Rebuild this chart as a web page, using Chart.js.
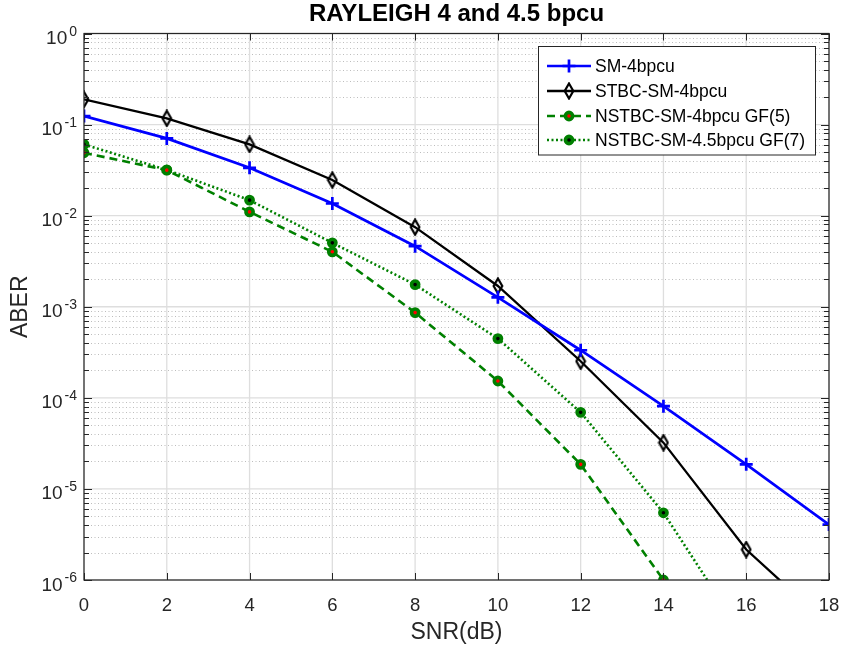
<!DOCTYPE html>
<html><head><meta charset="utf-8">
<script src="https://cdn.jsdelivr.net/npm/chart.js@4.4.1/dist/chart.umd.min.js"></script>
<style>html,body{margin:0;padding:0;background:#fff;overflow:hidden}</style>
</head><body>
<canvas id="c" width="841" height="655" style="display:block;width:841px;height:655px"></canvas>
<script>
// ---- data ----
const snr = [0, 2, 4, 6, 8, 10, 12, 14, 16, 18];
const smAber   = [0.124, 0.0705, 0.0335, 0.0136, 0.00462, 0.00127, 3.33e-4, 8.1e-5, 1.86e-5, 4.06e-6];
const stbcAber = [0.189, 0.117, 0.0606, 0.0246, 0.00748, 0.00169, 2.52e-4, 3.22e-5, 2.16e-6, 3.2e-7];
const gf5Aber  = [0.049, 0.0316, 0.011, 0.00401, 8.63e-4, 1.53e-4, 1.86e-5, 1.0e-6, null, null];
const gf7Aber  = [0.0606, 0.0318, 0.0148, 0.00503, 0.00175, 4.47e-4, 6.93e-5, 5.47e-6, 2.2e-7, null];
const seriesNames = ['SM-4bpcu', 'STBC-SM-4bpcu', 'NSTBC-SM-4bpcu GF(5)', 'NSTBC-SM-4.5bpcu GF(7)'];
const xTicks = [0, 2, 4, 6, 8, 10, 12, 14, 16, 18];
const yDecadeExp = [0, -1, -2, -3, -4, -5, -6];
const titleText = 'RAYLEIGH 4 and 4.5 bpcu';
const xTitleText = 'SNR(dB)';
const yTitleText = 'ABER';

const FONT = "'Liberation Sans', Arial, Helvetica, sans-serif";
const AX = '#262626';

function diamondCanvas() {
  const c = document.createElement('canvas');
  c.width = 12; c.height = 18;
  const g = c.getContext('2d');
  g.beginPath();
  g.moveTo(6, 1.5); g.lineTo(10.3, 9); g.lineTo(6, 16.5); g.lineTo(1.7, 9); g.closePath();
  g.lineWidth = 2.2; g.strokeStyle = '#000'; g.stroke();
  return c;
}
const diamond = diamondCanvas();

const pts = vals => snr.map((x, i) => ({ x: x, y: vals[i] }));

const datasets = [
  { label: seriesNames[0], data: pts(smAber), borderColor: '#0000ff', backgroundColor: '#0000ff',
    borderWidth: 2.7, pointStyle: 'cross', pointRadius: 6.5, pointBorderWidth: 2.7, pointBorderColor: '#0000ff' },
  { label: seriesNames[1], data: pts(stbcAber), borderColor: '#000000', backgroundColor: '#000000',
    borderWidth: 2.3, pointStyle: diamond, pointRadius: 7 },
  { label: seriesNames[2], data: pts(gf5Aber), borderColor: '#008000', backgroundColor: '#ff0000',
    borderWidth: 2.6, borderDash: [8, 5], pointStyle: 'circle', pointRadius: 3.6, pointBorderWidth: 3.6,
    pointBorderColor: '#008000', pointBackgroundColor: '#ff0000' },
  { label: seriesNames[3], data: pts(gf7Aber), borderColor: '#008000', backgroundColor: '#000000',
    borderWidth: 2.6, borderDash: [2, 2.5], pointStyle: 'circle', pointRadius: 3.6, pointBorderWidth: 3.6,
    pointBorderColor: '#008000', pointBackgroundColor: '#000000' }
];

// grid behind data
const gridPlugin = {
  id: 'matlabGrid',
  beforeDatasetsDraw(chart) {
    const { ctx, chartArea: a, scales: { x, y } } = chart;
    ctx.save();
    ctx.lineWidth = 1;
    ctx.strokeStyle = '#bdbdbd';
    ctx.setLineDash([1, 2.5]);
    for (const e of yDecadeExp) {
      if (e === 0) continue;
      for (let m = 2; m <= 9; m++) {
        const py = Math.round(y.getPixelForValue(m * Math.pow(10, e))) + 0.5;
        ctx.beginPath(); ctx.moveTo(a.left, py); ctx.lineTo(a.right, py); ctx.stroke();
      }
    }
    ctx.setLineDash([]);
    ctx.strokeStyle = '#dedede';
    ctx.lineWidth = 1.3;
    for (const e of yDecadeExp) {
      const py = y.getPixelForValue(Math.pow(10, e));
      ctx.beginPath(); ctx.moveTo(a.left, py); ctx.lineTo(a.right, py); ctx.stroke();
    }
    for (const v of xTicks) {
      const px = x.getPixelForValue(v);
      ctx.beginPath(); ctx.moveTo(px, a.top); ctx.lineTo(px, a.bottom); ctx.stroke();
    }
    ctx.restore();
  }
};

// axes box, inward ticks, y tick labels, legend
const axesPlugin = {
  id: 'matlabAxes',
  afterDatasetsDraw(chart) {
    const { ctx, chartArea: a, scales: { x, y } } = chart;
    ctx.save();
    ctx.strokeStyle = AX;
    ctx.lineWidth = 1;
    ctx.beginPath();
    for (const v of xTicks) {
      const px = Math.round(x.getPixelForValue(v)) + 0.5;
      ctx.moveTo(px, a.bottom); ctx.lineTo(px, a.bottom - 7);
      ctx.moveTo(px, a.top); ctx.lineTo(px, a.top + 7);
    }
    for (const e of yDecadeExp) {
      const py = Math.round(y.getPixelForValue(Math.pow(10, e))) + 0.5;
      ctx.moveTo(a.left, py); ctx.lineTo(a.left + 8, py);
      ctx.moveTo(a.right, py); ctx.lineTo(a.right - 8, py);
      if (e === 0) continue;
      for (let m = 2; m <= 9; m++) {
        const q = Math.round(y.getPixelForValue(m * Math.pow(10, e))) + 0.5;
        ctx.moveTo(a.left, q); ctx.lineTo(a.left + 5, q);
        ctx.moveTo(a.right, q); ctx.lineTo(a.right - 5, q);
      }
    }
    ctx.stroke();
    ctx.lineWidth = 1.2;
    ctx.strokeRect(a.left, a.top, a.right - a.left, a.bottom - a.top);
    // y tick labels 10^e
    ctx.fillStyle = AX;
    ctx.textAlign = 'right';
    ctx.textBaseline = 'alphabetic';
    for (const e of yDecadeExp) {
      const py = y.getPixelForValue(Math.pow(10, e));
      const expTxt = String(e);
      ctx.font = '14px ' + FONT;
      const ew = ctx.measureText(expTxt).width;
      const rx = a.left - 7;
      ctx.fillText(expTxt, rx, py + 2);
      ctx.font = '19px ' + FONT;
      ctx.fillText('10', rx - ew - 2, py + 10.5);
    }
    ctx.restore();
  },
  afterDraw(chart) {
    const { ctx } = chart;
    const bx = 538.5, by = 46.5, bw = 277, bh = 108.5;
    ctx.save();
    ctx.fillStyle = '#ffffff';
    ctx.fillRect(bx, by, bw, bh);
    ctx.strokeStyle = AX; ctx.lineWidth = 1;
    ctx.strokeRect(bx, by, bw, bh);
    const rows = [66, 91, 116, 140];
    const x0 = 547, x1 = 591, xm = 569;
    chart.data.datasets.forEach((ds, i) => {
      const yy = rows[i];
      ctx.save();
      ctx.strokeStyle = ds.borderColor; ctx.lineWidth = ds.borderWidth;
      ctx.setLineDash(ds.borderDash || []);
      ctx.beginPath(); ctx.moveTo(x0, yy); ctx.lineTo(x1, yy); ctx.stroke();
      ctx.setLineDash([]);
      if (ds.pointStyle === 'cross') {
        ctx.lineWidth = ds.pointBorderWidth; ctx.strokeStyle = ds.pointBorderColor;
        ctx.beginPath();
        ctx.moveTo(xm - ds.pointRadius, yy); ctx.lineTo(xm + ds.pointRadius, yy);
        ctx.moveTo(xm, yy - ds.pointRadius); ctx.lineTo(xm, yy + ds.pointRadius);
        ctx.stroke();
      } else if (ds.pointStyle === 'circle') {
        ctx.beginPath(); ctx.arc(xm, yy, ds.pointRadius, 0, Math.PI * 2);
        ctx.fillStyle = ds.pointBackgroundColor; ctx.fill();
        ctx.lineWidth = ds.pointBorderWidth; ctx.strokeStyle = ds.pointBorderColor; ctx.stroke();
      } else {
        const im = ds.pointStyle;
        ctx.drawImage(im, xm - im.width / 2, yy - im.height / 2);
      }
      ctx.restore();
      ctx.fillStyle = '#000';
      ctx.font = '17.5px ' + FONT;
      ctx.textAlign = 'left'; ctx.textBaseline = 'middle';
      ctx.fillText(ds.label, 595, yy + 1);
    });
    ctx.restore();
  }
};

new Chart(document.getElementById('c'), {
  type: 'line',
  data: { datasets: datasets },
  options: {
    responsive: false,
    animation: false,
    devicePixelRatio: 1,
    events: [],
    layout: { padding: { left: 7, right: 12, top: 0, bottom: 9 } },
    elements: { line: { tension: 0 } },
    plugins: {
      legend: { display: false },
      tooltip: { enabled: false },
      title: {
        display: true, text: titleText, fullSize: false, color: '#000',
        font: { family: FONT, size: 24, weight: 'bold' },
        padding: { top: 0, bottom: 4.7 }
      }
    },
    scales: {
      x: {
        type: 'linear', min: 0, max: 18,
        afterBuildTicks: s => { s.ticks = xTicks.map(v => ({ value: v })); },
        afterFit: s => { s.height = 66; s.paddingLeft = 0; s.paddingRight = 0; },
        grid: { display: false, drawTicks: false },
        border: { display: false },
        ticks: { color: AX, font: { family: FONT, size: 18.5 }, padding: 15, maxRotation: 0, autoSkip: false },
        title: { display: true, text: xTitleText, color: AX, font: { family: FONT, size: 23 }, padding: 0 }
      },
      y: {
        type: 'logarithmic', min: 1e-6, max: 1,
        afterFit: s => { s.width = 77; s.paddingTop = 0; s.paddingBottom = 0; },
        grid: { display: false, drawTicks: false },
        border: { display: false },
        ticks: { display: false },
        title: { display: true, text: yTitleText, color: AX, font: { family: FONT, size: 23 }, padding: 0 }
      }
    }
  },
  plugins: [gridPlugin, axesPlugin]
});
</script>
</body></html>
